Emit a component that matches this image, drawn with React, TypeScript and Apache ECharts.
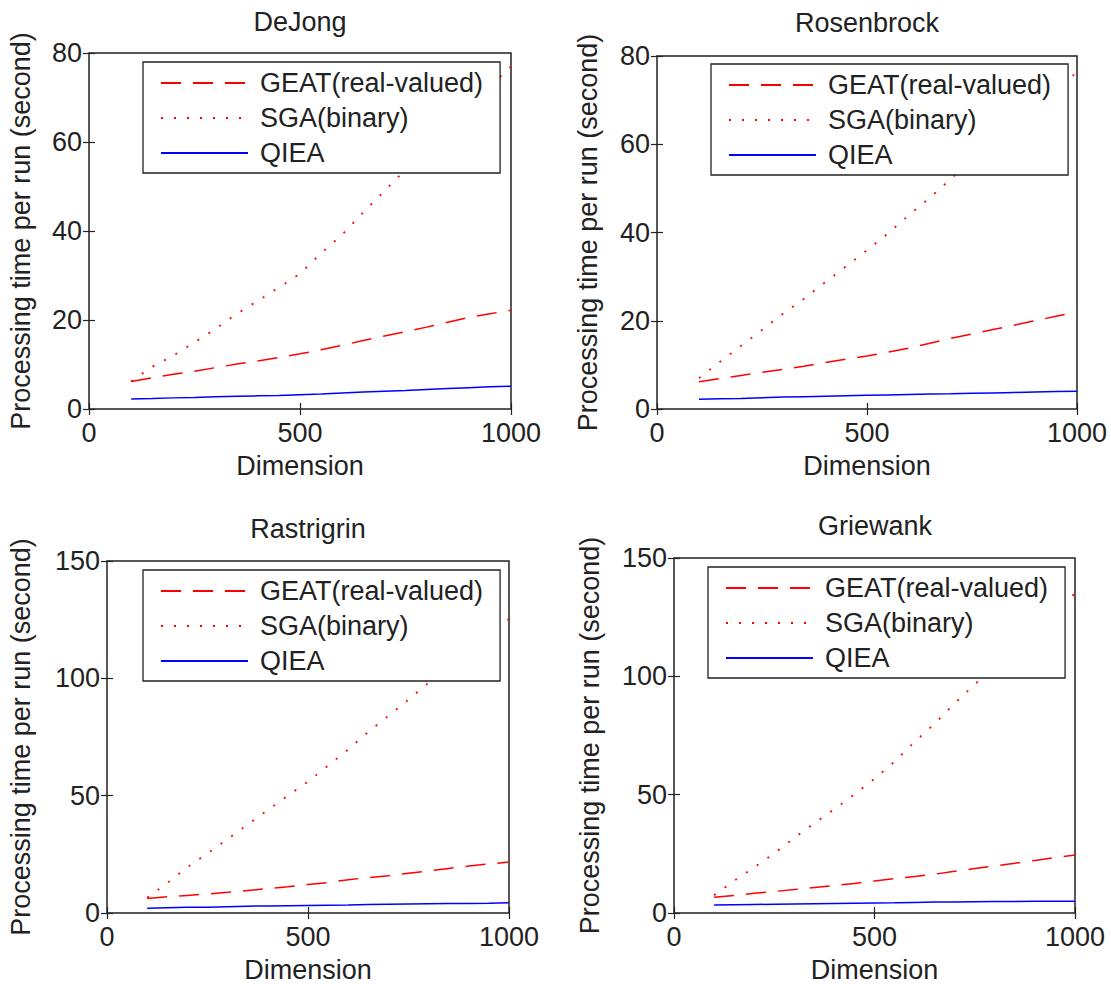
import React, { useEffect, useRef } from "react";
import * as echarts from "echarts";

const FONT = "'Liberation Sans', Arial, Helvetica, sans-serif";

const dims = [100, 150, 200, 250, 300, 350, 400, 450, 500, 550, 600, 650, 700, 750, 800, 850, 900, 950, 1000];
const seriesNames = ["GEAT(real-valued)", "SGA(binary)", "QIEA"];
const titles = ["DeJong", "Rosenbrock", "Rastrigrin", "Griewank"];
const yMax = [80, 80, 150, 150];
const yStep = [20, 20, 50, 50];

// DeJong
const dejongGEAT = [6.2, 7.0, 7.8, 8.5, 9.3, 10.1, 10.8, 11.6, 12.4, 13.3, 14.3, 15.4, 16.4, 17.4, 18.4, 19.5, 20.6, 21.4, 22.2];
const dejongSGA = [6.2, 9.5, 12.0, 15.0, 18.0, 21.4, 24.3, 27.3, 30.4, 35.0, 39.2, 44.2, 49.0, 53.8, 58.3, 63.0, 67.7, 72.4, 77.0];
const dejongQIEA = [2.25, 2.35, 2.5, 2.6, 2.75, 2.85, 2.95, 3.05, 3.2, 3.35, 3.6, 3.8, 4.0, 4.15, 4.4, 4.6, 4.8, 5.0, 5.1];
// Rosenbrock
const rosenGEAT = [6.2, 6.9, 7.6, 8.3, 9.0, 9.7, 10.5, 11.3, 12.0, 12.9, 13.8, 14.9, 16.0, 17.0, 18.0, 19.0, 20.0, 21.0, 22.0];
const rosenSGA = [7.0, 10.7, 14.3, 17.9, 21.6, 25.0, 28.7, 32.3, 36.0, 39.8, 44.0, 47.9, 52.2, 56.5, 60.8, 65.0, 69.2, 73.0, 76.2];
const rosenQIEA = [2.2, 2.3, 2.4, 2.55, 2.7, 2.8, 2.9, 3.0, 3.1, 3.2, 3.3, 3.4, 3.45, 3.55, 3.65, 3.75, 3.85, 3.95, 4.0];
// Rastrigrin
const rastGEAT = [6.2, 6.9, 7.5, 8.1, 8.8, 9.6, 10.4, 11.2, 12.1, 13.0, 14.2, 15.1, 15.9, 16.9, 17.9, 19.0, 20.0, 20.9, 21.7];
const rastSGA = [6.5, 12.8, 19.5, 25.4, 31.5, 37.7, 43.9, 50.0, 56.0, 62.8, 69.7, 77.2, 84.0, 91.0, 98.1, 105.0, 111.8, 118.5, 125.3];
const rastQIEA = [2.0, 2.2, 2.4, 2.5, 2.7, 2.9, 3.0, 3.1, 3.2, 3.3, 3.4, 3.6, 3.7, 3.8, 3.9, 4.0, 4.1, 4.2, 4.4];
// Griewank
const griewGEAT = [6.7, 7.4, 8.3, 9.1, 9.9, 10.8, 11.6, 12.5, 13.5, 14.5, 15.4, 16.4, 17.6, 18.8, 19.9, 21.0, 22.2, 23.4, 24.5];
const griewSGA = [7.5, 13.6, 19.3, 25.2, 31.7, 38.0, 43.9, 50.1, 56.7, 64.0, 72.3, 80.0, 88.6, 96.6, 104.5, 112.5, 120.0, 127.5, 135.0];
const griewQIEA = [3.4, 3.5, 3.6, 3.7, 3.8, 3.9, 4.0, 4.1, 4.2, 4.3, 4.45, 4.6, 4.7, 4.8, 4.85, 4.9, 4.95, 5.0, 5.0];

const panelData = [
  [dejongGEAT, dejongSGA, dejongQIEA],
  [rosenGEAT, rosenSGA, rosenQIEA],
  [rastGEAT, rastSGA, rastQIEA],
  [griewGEAT, griewSGA, griewQIEA],
];

// layout (pixels)
const grids = [
  { left: 89, top: 53, width: 422, height: 356 },
  { left: 657, top: 56, width: 420, height: 353 },
  { left: 107, top: 561, width: 402, height: 353 },
  { left: 674, top: 558, width: 401, height: 356 },
];
const yNameGaps = [55, 56, 73, 71];
const legendPos = [
  { left: 143, top: 62 },
  { left: 711, top: 64 },
  { left: 143, top: 570 },
  { left: 708, top: 567 },
];
const titlePos = [
  { x: 300, y: 22 },
  { x: 867, y: 23 },
  { x: 308, y: 529 },
  { x: 875, y: 526 },
];

const lineStyles = [
  { color: "#ff0000", type: [20, 12], width: 1.5 },
  { color: "#ff0000", type: [2, 11], width: 1.8 },
  { color: "#0000ff", type: "solid", width: 1.5 },
];

export default function App() {
  const ref = useRef<HTMLDivElement>(null);
  useEffect(() => {
    document.body.style.margin = "0";
    const chart = echarts.init(ref.current!, null, { renderer: "svg" });
    const textColor = "#222";
    const xAxes: any[] = [];
    const yAxes: any[] = [];
    const series: any[] = [];
    const legends: any[] = [];
    const graphics: any[] = [];
    grids.forEach((g, i) => {
      const tickStyle = { show: true, inside: true, length: 6, lineStyle: { color: "#222", width: 1.2 } };
      xAxes.push({
        type: "value", gridIndex: i, position: "bottom", min: 0, max: 1000, interval: 500,
        axisLine: { show: false }, splitLine: { show: false }, axisTick: tickStyle,
        axisLabel: { fontSize: 27, color: textColor, fontFamily: FONT, margin: 10, formatter: (v: number) => String(v) },
        name: "Dimension", nameLocation: "middle", nameGap: 43,
        nameTextStyle: { fontSize: 27, color: textColor, fontFamily: FONT },
      });
      xAxes.push({
        type: "value", gridIndex: i, position: "top", min: 0, max: 1000, interval: 500,
        axisLine: { show: false }, splitLine: { show: false }, axisTick: tickStyle,
        axisLabel: { show: false },
      });
      yAxes.push({
        type: "value", gridIndex: i, position: "left", min: 0, max: yMax[i], interval: yStep[i],
        axisLine: { show: false }, splitLine: { show: false }, axisTick: tickStyle,
        axisLabel: { fontSize: 27, color: textColor, fontFamily: FONT, margin: 7 },
        name: "Processing time per run (second)", nameLocation: "middle", nameGap: yNameGaps[i],
        nameTextStyle: { fontSize: 27, color: textColor, fontFamily: FONT },
      });
      yAxes.push({
        type: "value", gridIndex: i, position: "right", min: 0, max: yMax[i], interval: yStep[i],
        axisLine: { show: false }, splitLine: { show: false }, axisTick: tickStyle,
        axisLabel: { show: false },
      });
      panelData[i].forEach((vals, k) => {
        series.push({
          type: "line", name: seriesNames[k], xAxisIndex: i * 2, yAxisIndex: i * 2,
          data: dims.map((d, j) => [d, vals[j]]),
          symbol: "none", showSymbol: false, lineStyle: lineStyles[k], itemStyle: { color: lineStyles[k].color },
          z: 2,
        });
      });
      legends.push({
        orient: "vertical", align: "left", left: legendPos[i].left, top: legendPos[i].top,
        data: seriesNames, selectedMode: false,
        itemWidth: 87, itemHeight: 14, itemGap: 5,
        padding: [6, 17, 5, 17],
        backgroundColor: "#ffffff", borderColor: "#222", borderWidth: 1.3, borderRadius: 0,
        itemStyle: { color: "rgba(0,0,0,0)", borderWidth: 0, opacity: 0 },
        textStyle: { fontSize: 27, lineHeight: 30, color: textColor, fontFamily: FONT, padding: [0, 0, 0, 7] },
        z: 10,
      });
      graphics.push({
        type: "text", x: titlePos[i].x, y: titlePos[i].y,
        style: { text: titles[i], fontSize: 27, fontFamily: FONT, fill: textColor, align: "center", verticalAlign: "middle" },
      });
    });
    chart.setOption({
      animation: false,
      backgroundColor: "#ffffff",
      grid: grids.map((g) => ({ ...g, show: true, borderColor: "#222", borderWidth: 1.5, backgroundColor: "transparent", containLabel: false })),
      xAxis: xAxes,
      yAxis: yAxes,
      legend: legends,
      series,
      graphic: graphics,
    });
    return () => chart.dispose();
  }, []);
  return <div ref={ref} style={{ width: 1111, height: 984 }} />;
}
